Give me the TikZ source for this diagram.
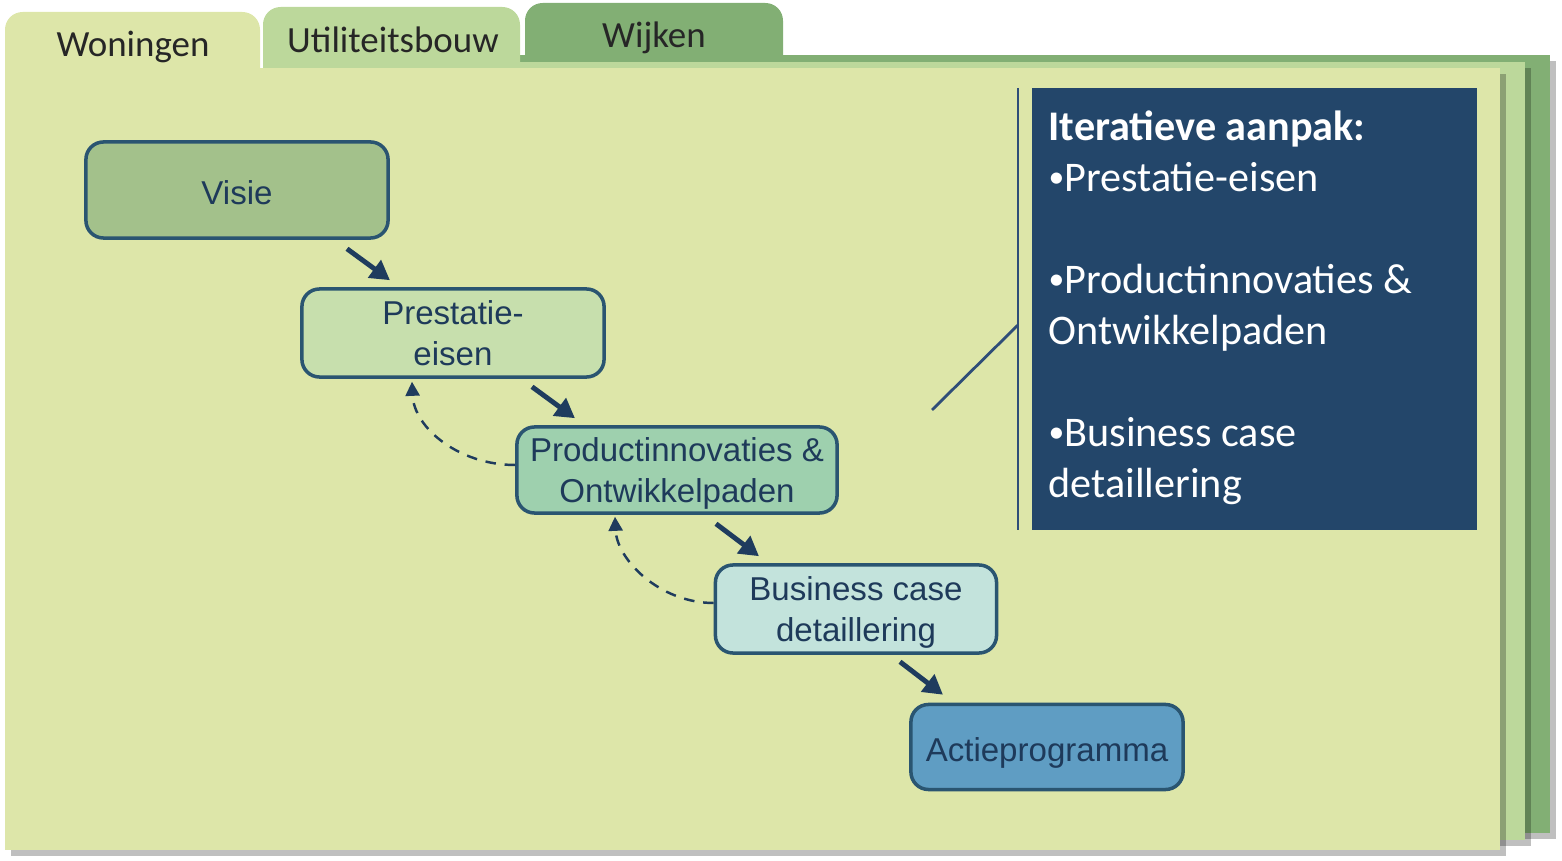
\documentclass[tikz,border=0pt]{standalone}
\usepackage{fontspec}
\setmainfont{Carlito}
\newfontfamily\stepfont{Liberation Sans}
\usetikzlibrary{arrows.meta,positioning}

\definecolor{pagefront}{HTML}{DDE6A9}
\definecolor{pagemid}{HTML}{BCD89B}
\definecolor{pageback}{HTML}{82AF74}
\definecolor{visiefill}{HTML}{A3C18B}
\definecolor{prestfill}{HTML}{C7DFAD}
\definecolor{prodfill}{HTML}{9ED0AE}
\definecolor{busfill}{HTML}{C3E3DC}
\definecolor{actfill}{HTML}{5F9DC3}
\definecolor{edgeblue}{HTML}{2A5571}
\definecolor{arrowblue}{HTML}{1F3C5E}
\definecolor{textblue}{HTML}{1E3A5A}
\definecolor{infoblue}{HTML}{23466A}
\definecolor{calloutblue}{HTML}{2F4E78}

\newcommand{\smallbullet}{\raisebox{0.1em}{\fontsize{9}{9}\selectfont\textbullet}}

\begin{document}
\begin{tikzpicture}[x=0.01cm,y=-0.01cm,
  stepnode/.style={draw=edgeblue,line width=1pt,rounded corners=5pt,align=center,
    text=textblue,font=\stepfont\fontsize{9.4}{11.4}\selectfont,inner sep=0pt,text depth=0pt,
    execute at begin node=\rule{0pt}{8.2pt}},
  flow/.style={draw=arrowblue,line width=1.4pt,-{Triangle[length=5.5pt,width=6pt]}},
  back/.style={draw=arrowblue,line width=0.7pt,dash pattern=on 3pt off 2.5pt,-{Triangle[length=4pt,width=4pt]}},
  tablabel/.style={anchor=base,font=\fontsize{10.5}{12}\selectfont,text=black!85},
  pageshadow/.style={fill=black,opacity=.25}]

\useasboundingbox (0,0) rectangle (1562,861);

% back page (Wijken)
\fill[pageshadow] (276,61) rectangle (1556,839);
\fill[pageback] (270,55) rectangle (1550,833);
\fill[pageback,rounded corners=5pt] (525,100) -- (525,3) -- (783,3) -- (783,100) -- cycle;
% middle page (Utiliteitsbouw)
\fill[pageshadow] (276,68) rectangle (1531,846);
\fill[pagemid] (270,62) rectangle (1525,840);
\fill[pagemid,rounded corners=5pt] (263,100) -- (263,7) -- (520,7) -- (520,100) -- cycle;
% front page (Woningen)
\fill[pageshadow] (11,74) rectangle (1506,856);
\fill[pagefront] (5,68) rectangle (1500,850);
\fill[pagefront,rounded corners=5pt] (5,100) -- (5,12) -- (260,12) -- (260,100) -- cycle;

\node[tablabel] (woningen) at (133,57) {Woningen};
\node[tablabel] (utiliteit) at (393,53) {Utiliteitsbouw};
\node[tablabel] (wijken) at (654,48) {Wijken};

% steps
\node[stepnode,fill=visiefill,minimum width=3.02cm,minimum height=0.96cm] (visie) at (237,190) {Visie};
\node[stepnode,fill=prestfill,minimum width=3.02cm,minimum height=0.88cm] (prest) at (453,333) {Prestatie-\\eisen};
\node[stepnode,fill=prodfill,minimum width=3.20cm,minimum height=0.86cm] (prod) at (677,470) {Productinnovaties \&\\Ontwikkelpaden};
\node[stepnode,fill=busfill,minimum width=2.81cm,minimum height=0.88cm] (bus) at (856,609) {Business case\\detaillering};
\node[stepnode,fill=actfill,minimum width=2.72cm,minimum height=0.85cm] (act) at (1047,747) {Actieprogramma};

\draw[flow] ([shift={(110,9)}]visie.south) -- ([shift={(-63,-7)}]prest.north);
\draw[flow] ([shift={(79,8)}]prest.south) -- ([shift={(-102,-7)}]prod.north);
\draw[flow] ([shift={(39,9)}]prod.south) -- ([shift={(-97,-7)}]bus.north);
\draw[flow] ([shift={(44,7)}]bus.south) -- ([shift={(-104,-8)}]act.north);

\draw[back] ([shift={(0,-5)}]prod.west) .. controls (459,465) and (414,428) .. ([shift={(-41,3)}]prest.south);
\draw[back] ([shift={(0,-6)}]bus.west) .. controls (660,603) and (617,560) .. ([shift={(-62,2)}]prod.south);

% iterative approach
\node[fill=infoblue,minimum width=4.45cm,minimum height=4.42cm,inner sep=0pt] (info) at (1254.5,309) {};
\coordinate (bartop) at (1018,88);
\coordinate (barbot) at (1018,530);
\coordinate (barmid) at (1018,325);
\coordinate (pointer) at (932,410);
\draw[calloutblue,line width=0.8pt] (bartop) -- (barbot);
\draw[calloutblue,line width=0.8pt] (barmid) -- (pointer);
\node[anchor=north west,inner sep=0pt,align=left,text=white,font=\fontsize{12}{14.5}\selectfont] (infotext) at (1048,110)
  {\textbf{Iteratieve aanpak:}\\
   \smallbullet Prestatie-eisen\\[14.5pt]
   \smallbullet Productinnovaties \&\\
   Ontwikkelpaden\\[14.5pt]
   \smallbullet Business case\\
   detaillering};
\end{tikzpicture}
\end{document}
